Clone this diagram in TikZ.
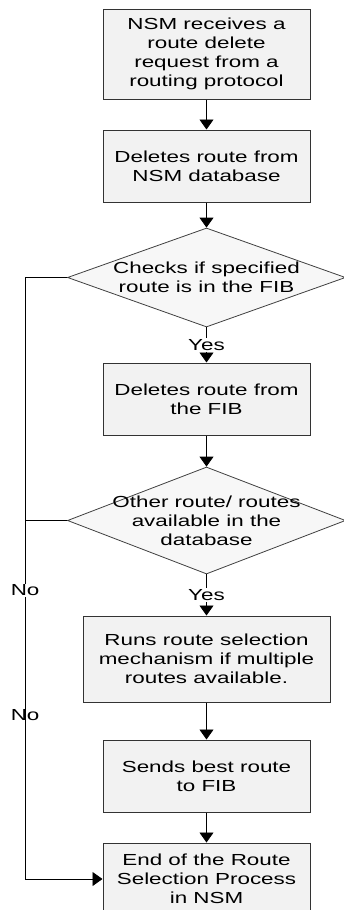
\documentclass[tikz,border=0pt]{standalone}
\usepackage{fontspec}
\setmainfont{Liberation Sans}[FakeStretch=1.4]
\usetikzlibrary{shapes.geometric,arrows.meta,positioning}

\tikzset{
  txt/.style={font=\fontsize{16}{19}\selectfont},
  box/.style={txt,rectangle,draw=black!80,line width=1pt,fill=black!5,
    minimum width=207pt,minimum height=72pt,align=center},
  check/.style={txt,diamond,draw=black!75,line width=0.8pt,fill=black!3,
    inner xsep=-100pt,inner ysep=-40pt,minimum width=278pt,align=center},
  lbl/.style={txt,inner sep=1pt}
}

\begin{document}
\begin{tikzpicture}[node distance=112pt,on grid,line width=0.8pt,
    >={Triangle[width=14pt,length=10pt]}]
   \useasboundingbox (0,0) rectangle (344pt,-910pt);
   \node[box,minimum height=90pt] (b_1) at (206.5pt,-54pt) {NSM receives a\\route delete\\request from a\\routing protocol};
   \node[box] (b_2) [below=of b_1] {Deletes route from\\NSM database};
   \node[check,minimum height=99pt] (d_1) [below=111.5pt of b_2] {Checks if specified\\route is in the FIB};
   \node[box] (b_3) [below=121.5pt of d_1] {Deletes route from\\the FIB};
   \node[check,minimum height=107pt] (d_2) [below=121.5pt of b_3] {Other route/ routes\\available in the\\database};
   \node[box,minimum width=247pt,minimum height=86pt] (b_4) [below=138.5pt of d_2] {Runs route selection\\mechanism if multiple\\routes available.};
   \node[box] (b_5) [below=117pt of b_4] {Sends best route\\to FIB};
   \node[box] (b_6) [below=103pt of b_5] {End of the Route\\Selection Process\\in NSM};
   % the "No" branches
   \coordinate (nobus) at ([xshift=-42pt]d_1.west);
    \path[->]
    (b_1) edge (b_2)
    (b_2) edge (d_1)
    (d_1) edge node[lbl,fill=white] {Yes} (b_3)
    (b_3) edge (d_2)
    (d_2) edge node[lbl,fill=white] {Yes} (b_4)
    (b_4) edge (b_5)
    (b_5) edge (b_6);
   \draw[->] (d_1.west) -- (nobus) |- (b_6.west)
      node[lbl,fill=white,pos=0.26] {No}
      node[lbl,pos=0.364] {No};
   \draw (d_2.west) -- (d_2.west -| nobus);
\end{tikzpicture}
\end{document}
